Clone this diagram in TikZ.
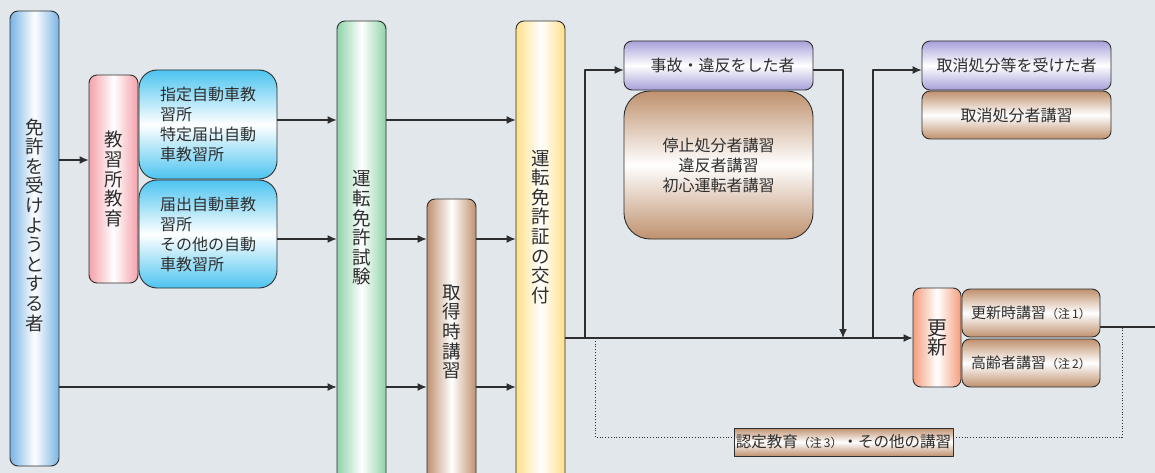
\documentclass[tikz,border=0pt]{standalone}
\usepackage{fontspec}
\setmainfont{Noto Sans CJK JP}
\usetikzlibrary{arrows.meta}

\definecolor{bgc}{HTML}{E1E7EA}
\definecolor{blueA}{HTML}{7AB4E4}
\definecolor{pinkA}{HTML}{F4A0AA}
\definecolor{cyanA}{HTML}{4CC4F0}
\definecolor{greenA}{HTML}{8ED3A8}
\definecolor{brownA}{HTML}{BF916E}
\definecolor{yellowA}{HTML}{FFE08A}
\definecolor{purpleA}{HTML}{A6A0D8}
\definecolor{orangeA}{HTML}{F59E7C}
\definecolor{inkc}{HTML}{2E2E2E}

\newcommand{\note}[1]{{\fontsize{12pt}{14pt}\selectfont（注\,#1）}}

\begin{document}
\begin{tikzpicture}[
		x = 1pt,
		y = -1pt,
		line join = round,
		> = {Latex[length=9pt,width=8pt]},
		box/.style = {draw=inkc, line width=0.9pt, rounded corners=8pt, inner sep=0pt, text=inkc},
		hbar/.style = {box, minimum width=49pt, left color=#1, right color=#1, middle color=white},
		vbox/.style = {box, top color=#1, bottom color=#1, middle color=white},
		vtext/.style = {align=center, text=inkc, font=\fontsize{18.5pt}{19.6pt}\selectfont},
		htext/.style = {align=left, font=\fontsize{16pt}{20pt}\selectfont},
		link/.style = {line width=1.1pt, inkc},
		dots/.style = {dotted, line width=0.8pt, inkc},
		]
\useasboundingbox (0,0) rectangle (1155,473);
\clip (0,0) rectangle (1155,473);
\fill[bgc] (0,0) rectangle (1155,473);

% columns
\node[hbar=blueA, minimum height=455pt] (person) at (34.5,238.5) {};
\node[vtext] (personT) at (34.5,225) {免\\許\\を\\受\\け\\よ\\う\\と\\す\\る\\者};
\node[hbar=pinkA, minimum height=208pt, vtext] (edu) at (113.5,179) {教\\習\\所\\教\\育};
\node[vbox=cyanA, minimum width=138pt, minimum height=109pt, rounded corners=18pt, htext]
	(school1) at (208,124.5) {指定自動車教\\習所\\特定届出自動\\車教習所};
\node[vbox=cyanA, minimum width=138pt, minimum height=108pt, rounded corners=18pt, htext]
	(school2) at (208,234) {届出自動車教\\習所\\その他の自動\\車教習所};
\node[hbar=greenA, minimum height=470pt] (exam) at (361.5,256) {};
\node[vtext] (examT) at (exam.center |- 0,228) {運\\転\\免\\許\\試\\験};
\node[hbar=brownA, minimum height=292pt] (lecture) at (451.5,345) {};
\node[vtext] (lectureT) at (lecture.center |- 0,332) {取\\得\\時\\講\\習};
\node[hbar=yellowA, minimum height=470pt] (issue) at (540.5,256) {};
\node[vtext] (issueT) at (issue.center |- 0,227) {運\\転\\免\\許\\証\\の\\交\\付};

% after the licence
\node[vbox=purpleA, minimum width=189pt, minimum height=49pt, htext] (accident) at (718.5,65.5) {\hspace{8pt}事故・違反をした者};
\node[vbox=brownA, minimum width=189pt, minimum height=148pt, rounded corners=26pt, htext, align=center]
	(accLect) at (718.5,165) {停止処分者講習\\違反者講習\\初心運転者講習};
\node[vbox=purpleA, minimum width=189pt, minimum height=49pt, htext] (revoke) at (1016.5,65.5) {取消処分等を受けた者};
\node[vbox=brownA, minimum width=189pt, minimum height=48pt, htext] (revLect) at (1016.5,115) {取消処分者講習};
\node[hbar=orangeA, minimum width=48pt, minimum height=99pt, vtext, font=\fontsize{20pt}{19pt}\selectfont]
	(renew) at (937,337.5) {更\\新};
\node[vbox=brownA, minimum width=138pt, minimum height=48pt, htext, font=\fontsize{15pt}{18pt}\selectfont]
	(renew1) at (1031,313) {更新時講習\note{1}};
\node[vbox=brownA, minimum width=138pt, minimum height=48pt, htext, font=\fontsize{15pt}{18pt}\selectfont]
	(renew2) at (1031,363) {高齢者講習\note{2}};
\node[vbox=brownA, sharp corners, minimum width=219pt, minimum height=28pt, htext, font=\fontsize{15.5pt}{18pt}\selectfont]
	(cert) at (843.5,442) {認定教育\note{3}・その他の講習};

% levels
\coordinate (rowT) at (0,70);
\coordinate (rowA) at (0,120);
\coordinate (rowE) at (0,160);
\coordinate (rowB) at (0,239);
\coordinate (rowN) at (0,327);
\coordinate (rowM) at (0,338);
\coordinate (rowC) at (0,387);
\coordinate (rowD) at (0,437);
\coordinate (split) at (585,338);
\coordinate (merge) at (843,338);
\coordinate (back) at (873,338);
\coordinate (dotL) at (595,338);
\coordinate (dotR) at (1122,327);
\coordinate (exit) at (1160,327);

% connectors
\draw[link,->] (person.east |- rowE) -- (edu.west |- rowE);
\draw[link,->] (school1.east |- rowA) -- (exam.west |- rowA);
\draw[link,->] (school2.east |- rowB) -- (exam.west |- rowB);
\draw[link,->] (person.east |- rowC) -- (exam.west |- rowC);
\draw[link,->] (exam.east |- rowA) -- (issue.west |- rowA);
\foreach \r in {rowB,rowC} {
	\draw[link,->] (exam.east |- \r) -- (lecture.west |- \r);
	\draw[link,->] (lecture.east |- \r) -- (issue.west |- \r);
}
\draw[link,->] (issue.east |- rowM) -- (renew.west |- rowM);
\draw[link,->] (split) |- (accident.west |- rowT);
\draw[link,->] (accident.east |- rowT) -| (merge);
\draw[link,->] (back) |- (revoke.west |- rowT);
\draw[link] (renew1.east |- rowN) -- (exit);
\draw[dots] (dotL) |- (cert.west |- rowD);
\draw[dots] (cert.east |- rowD) -| (dotR);
\end{tikzpicture}
\end{document}
